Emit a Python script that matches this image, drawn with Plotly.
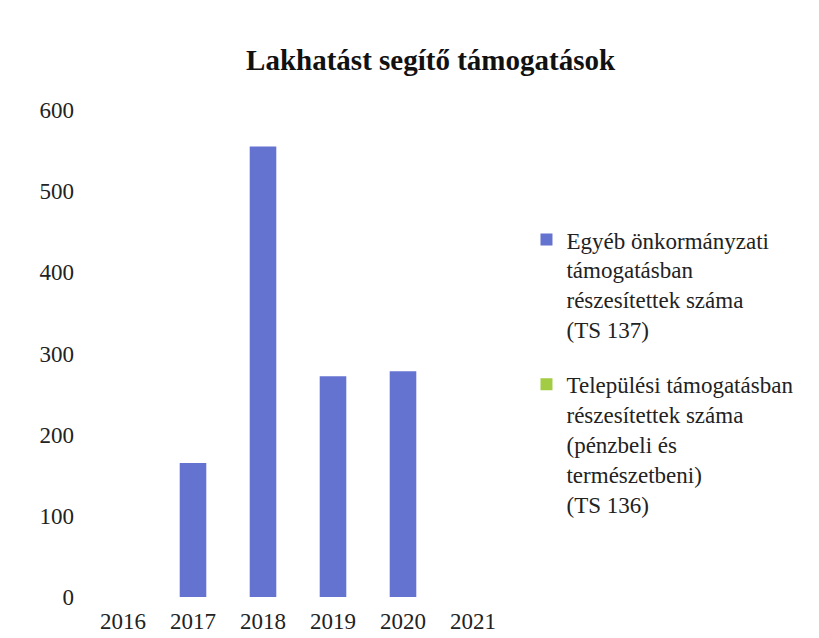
import plotly.graph_objects as go

years = ["2016", "2017", "2018", "2019", "2020", "2021"]
egyeb = [0, 165, 555, 272, 278, 0]
telepulesi = [0, 0, 0, 0, 0, 0]

name_egyeb = "Egyéb önkormányzati<br>támogatásban<br>részesítettek száma<br>(TS 137)"
name_telepulesi = "Települési támogatásban<br>részesítettek száma<br>(pénzbeli és<br>természetbeni)<br>(TS 136)"

font_family = "Liberation Serif"

fig = go.Figure()
fig.add_trace(go.Bar(x=years, y=egyeb, name=name_egyeb, legendgroup="a",
                     marker=dict(color="#6573D0", line=dict(width=0))))
fig.add_trace(go.Bar(x=years, y=telepulesi, name=name_telepulesi, legendgroup="b",
                     marker=dict(color="#A3CC45", line=dict(width=0))))

fig.update_layout(
    width=819, height=638,
    paper_bgcolor="white", plot_bgcolor="white",
    margin=dict(l=80, r=319, t=102, b=38),
    barmode="overlay",
    bargap=0.62,
    font=dict(family=font_family, size=23, color="#222222"),
    title=dict(text="<b>Lakhatást segítő támogatások</b>", xref="container", x=0.516,
               y=1 - 52 / 638, yanchor="middle", xanchor="center",
               font=dict(family=font_family, size=29, color="#111111")),
    legend=dict(x=1.044, y=0.778, xanchor="left", yanchor="top", valign="top",
                traceorder="grouped", tracegroupgap=22,
                font=dict(family=font_family, size=23, color="#222222"),
                itemwidth=30),
    showlegend=True,
)
fig.update_xaxes(showgrid=False, showline=False, zeroline=False, ticks="",
                 ticklabelstandoff=8, tickfont=dict(family=font_family, size=23))
fig.update_yaxes(range=[0, 600], dtick=100, showgrid=False, showline=False,
                 zeroline=False, ticks="", ticklabelstandoff=13,
                 tickfont=dict(family=font_family, size=23))

fig.write_html("out.html")
